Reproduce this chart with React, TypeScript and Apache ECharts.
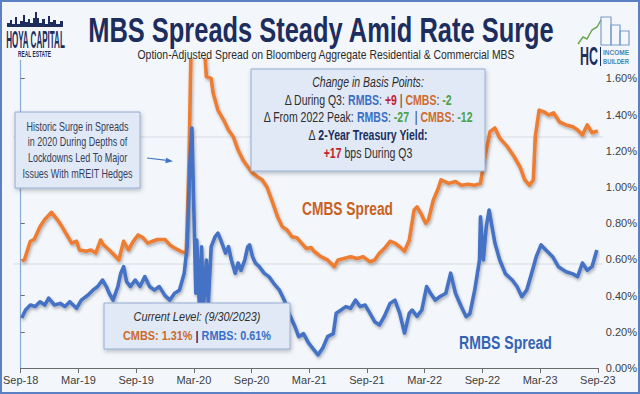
import React, { useEffect, useRef } from "react";
import * as echarts from "echarts";

// ---- data (x = months since Sep-2018, y = spread in %) ----
const xTickLabels = ["Sep-18", "Mar-19", "Sep-19", "Mar-20", "Sep-20", "Mar-21", "Sep-21", "Mar-22", "Sep-22", "Mar-23", "Sep-23"];
const yTickValues = [0, 0.2, 0.4, 0.6, 0.8, 1.0, 1.2, 1.4, 1.6];

const cmbsMonths = [0.1, 0.4, 1.0, 1.4, 2.0, 2.5, 3.2, 3.8, 4.3, 4.8, 5.3, 5.8, 6.1, 6.8, 7.3, 7.8, 8.3, 8.6, 9.2, 9.7, 10.2, 10.7, 11.2, 11.7, 12.2, 12.7, 13.2, 13.7, 14.2, 15.0, 15.5, 16.0, 16.7, 17.2, 17.3, 17.5, 17.7, 18.0, 18.5, 19.0, 19.3, 19.8, 20.0, 20.5, 21.1, 21.6, 22.1, 22.6, 23.1, 23.6, 24.1, 24.6, 25.1, 25.6, 26.1, 26.7, 27.2, 27.7, 28.2, 28.7, 29.2, 29.7, 30.2, 30.5, 31.2, 31.9, 32.6, 33.0, 33.6, 34.3, 35.0, 35.6, 36.3, 36.8, 37.3, 37.8, 38.4, 38.9, 39.4, 39.9, 40.4, 40.9, 41.2, 41.6, 42.1, 42.4, 42.9, 43.4, 43.7, 44.5, 45.2, 45.8, 46.5, 47.2, 47.8, 48.2, 48.8, 49.3, 49.8, 50.6, 51.3, 51.9, 52.4, 52.9, 53.3, 53.5, 53.9, 54.4, 54.9, 55.4, 56.0, 56.7, 57.4, 57.9, 58.4, 58.9, 59.4, 60.0];
const cmbsValues = [0.59, 0.6, 0.7, 0.71, 0.78, 0.82, 0.86, 0.82, 0.78, 0.735, 0.69, 0.7, 0.652, 0.645, 0.652, 0.635, 0.707, 0.68, 0.652, 0.625, 0.597, 0.7, 0.652, 0.7, 0.735, 0.72, 0.69, 0.7, 0.71, 0.71, 0.68, 0.663, 0.643, 0.635, 0.78, 1.15, 1.75, 1.95, 2.0, 1.85, 1.61, 1.6, 1.52, 1.425, 1.37, 1.315, 1.278, 1.204, 1.15, 1.112, 1.077, 1.057, 1.04, 1.0, 0.928, 0.836, 0.78, 0.762, 0.725, 0.72, 0.69, 0.66, 0.665, 0.645, 0.615, 0.597, 0.56, 0.597, 0.605, 0.615, 0.605, 0.615, 0.587, 0.597, 0.635, 0.66, 0.7, 0.69, 0.67, 0.645, 0.707, 0.873, 0.89, 0.855, 0.8, 0.82, 0.928, 0.99, 1.04, 1.02, 1.03, 1.01, 1.015, 1.01, 1.02, 1.15, 1.306, 1.326, 1.27, 1.223, 1.167, 1.112, 1.04, 1.01, 1.04, 1.278, 1.425, 1.415, 1.398, 1.41, 1.36, 1.343, 1.333, 1.315, 1.287, 1.343, 1.3, 1.31];

const rmbsMonths = [0.1, 0.5, 1.0, 1.5, 2.0, 2.5, 2.9, 3.5, 4.1, 4.6, 5.1, 5.8, 6.3, 7.0, 7.5, 8.0, 8.5, 8.9, 9.2, 9.6, 10.1, 10.4, 10.7, 11.0, 11.4, 11.9, 12.4, 12.9, 13.4, 13.9, 14.4, 15.0, 15.5, 16.0, 16.5, 17.0, 17.3, 17.6, 17.8, 18.0, 18.2, 18.3, 18.6, 18.8, 19.0, 19.3, 19.5, 19.8, 20.2, 20.5, 20.8, 21.3, 21.6, 21.9, 22.3, 22.6, 22.9, 23.3, 23.6, 23.8, 24.1, 24.4, 24.8, 25.3, 25.8, 26.3, 26.9, 27.4, 27.9, 28.5, 28.9, 29.4, 29.9, 30.2, 30.9, 31.4, 31.9, 32.5, 32.8, 33.3, 33.8, 34.3, 34.8, 35.3, 35.8, 36.3, 36.8, 37.3, 37.8, 38.4, 38.9, 39.4, 39.9, 40.4, 40.7, 41.2, 41.7, 42.2, 42.6, 43.1, 43.6, 44.2, 44.7, 45.2, 45.8, 46.3, 46.7, 47.2, 47.7, 47.8, 48.1, 48.4, 48.7, 49.0, 49.3, 49.8, 50.4, 51.1, 51.6, 52.1, 52.6, 53.1, 53.6, 54.1, 54.6, 55.3, 55.9, 56.7, 57.4, 57.9, 58.4, 58.9, 59.4, 59.9];
const rmbsValues = [0.276, 0.32, 0.348, 0.34, 0.366, 0.348, 0.386, 0.348, 0.357, 0.34, 0.366, 0.33, 0.375, 0.403, 0.43, 0.45, 0.486, 0.45, 0.413, 0.375, 0.45, 0.524, 0.56, 0.477, 0.45, 0.486, 0.45, 0.505, 0.45, 0.43, 0.45, 0.4, 0.375, 0.413, 0.43, 0.524, 0.67, 1.15, 1.326, 0.873, 0.413, 0.707, 0.3, 0.67, 0.33, 0.597, 0.35, 0.67, 0.725, 0.745, 0.707, 0.635, 0.67, 0.597, 0.524, 0.58, 0.54, 0.597, 0.67, 0.68, 0.615, 0.58, 0.56, 0.524, 0.505, 0.468, 0.43, 0.375, 0.3, 0.23, 0.173, 0.19, 0.14, 0.12, 0.072, 0.11, 0.173, 0.19, 0.303, 0.32, 0.339, 0.33, 0.375, 0.339, 0.348, 0.303, 0.256, 0.238, 0.285, 0.357, 0.375, 0.303, 0.193, 0.303, 0.32, 0.285, 0.32, 0.45, 0.413, 0.375, 0.395, 0.413, 0.524, 0.413, 0.34, 0.284, 0.3, 0.43, 0.597, 0.836, 0.597, 0.78, 0.873, 0.78, 0.69, 0.597, 0.52, 0.486, 0.45, 0.394, 0.43, 0.52, 0.615, 0.68, 0.652, 0.615, 0.56, 0.532, 0.52, 0.505, 0.58, 0.54, 0.56, 0.652];

const FF = '"Liberation Sans", Arial, Helvetica, sans-serif';
const NARROW = '"Liberation Sans Narrow", "Arial Narrow", "Liberation Sans", sans-serif';

let mctx: CanvasRenderingContext2D | null = null;
function measure(text: string, size: number, weight = "normal", style = "normal") {
  if (!mctx) mctx = document.createElement("canvas").getContext("2d");
  mctx!.font = `${style} ${weight} ${size}px ${FF}`;
  return mctx!.measureText(text).width;
}

type Seg = [string, string];
type RichDef = { fill: string; fontSize: number; fontWeight?: string; fontStyle?: string };

function textEl(x: number, y: number, text: string, size: number, fill: string, target: number, weight = "normal", fstyle = "normal", z = 60) {
  const sx = target / measure(text, size, weight, fstyle);
  return {
    type: "text", x, y, scaleX: sx, z,
    style: { text, fill, fontSize: size, fontWeight: weight, fontStyle: fstyle, fontFamily: FF, align: "center", verticalAlign: "middle" },
  };
}

function richWidth(segs: Seg[], defs: Record<string, RichDef>) {
  let w = 0;
  for (const [t, k] of segs) {
    const d = defs[k];
    w += measure(t, d.fontSize, d.fontWeight || "normal", d.fontStyle || "normal");
  }
  return w;
}

function richEl(x: number, y: number, segs: Seg[], defs: Record<string, RichDef>, scale: number, z = 60) {
  const rich: Record<string, any> = {};
  Object.keys(defs).forEach((k) => {
    rich[k] = { ...defs[k], fontFamily: FF };
  });
  return {
    type: "text", x, y, scaleX: scale, z,
    style: { text: segs.map(([t, k]) => `{${k}|${t}}`).join(""), rich, fontFamily: FF, fontSize: 14, align: "center", verticalAlign: "middle" },
  };
}

const BLUE = "#4472C4";
const ORANGE = "#ED7D31";
const NAVY = "#1c2d5e";

function buildGraphics() {
  const g: any[] = [];
  // faint gridlines
  g.push({ type: "line", z: 0, shape: { x1: 13, y1: 264, x2: 603, y2: 264 }, style: { stroke: "#d9dce2", lineWidth: 1 } });
  g.push({ type: "line", z: 0, shape: { x1: 13, y1: 137, x2: 603, y2: 137 }, style: { stroke: "#d9dce2", lineWidth: 1 } });

  // title / subtitle
  g.push(textEl(321, 30, "MBS Spreads Steady Amid Rate Surge", 36, NAVY, 467, "bold"));
  g.push(textEl(326, 54.5, "Option-Adjusted Spread on Bloomberg Aggregate Residential & Commercial MBS", 13, "#2b2b2b", 378));

  // left logo
  g.push({
    type: "polygon", z: 60,
    shape: { points: [[7, 27], [7, 23], [10, 23], [10, 20], [12, 20], [12, 24], [15, 24], [15, 17], [17, 17], [17, 24], [20, 24], [20, 21], [23, 21], [23, 15], [25, 15], [25, 22], [28, 22], [28, 19], [30, 19], [30, 23], [33, 23], [33, 18], [35, 18], [35, 12], [37, 12], [37, 18], [39, 18], [39, 23], [42, 23], [42, 19], [45, 19], [45, 24], [48, 24], [48, 16], [50, 16], [50, 22], [53, 22], [53, 20], [56, 20], [56, 24], [60, 24], [60, 21], [63, 21], [63, 27]] },
    style: { fill: NAVY },
  });
  g.push(textEl(35.5, 40, "HOYA CAPITAL", 24, NAVY, 59, "bold"));
  g.push(textEl(34.5, 54, "REAL ESTATE", 8.5, NAVY, 33, "bold"));

  // right logo
  g.push({ type: "polyline", z: 60, shape: { points: [[578, 44], [583, 37], [587, 39], [592, 30], [597, 27], [601, 20]] }, style: { stroke: "#6aa84f", lineWidth: 1.5, fill: "none" } });
  g.push({ type: "rect", z: 60, shape: { x: 601, y: 17, width: 10, height: 28 }, style: { stroke: "#7b9cc9", fill: "none", lineWidth: 1.2 } });
  g.push({ type: "rect", z: 60, shape: { x: 611, y: 25, width: 9, height: 20 }, style: { stroke: "#7b9cc9", fill: "none", lineWidth: 1.2 } });
  g.push({ type: "rect", z: 60, shape: { x: 620, y: 31, width: 9, height: 14 }, style: { stroke: "#7b9cc9", fill: "none", lineWidth: 1.2 } });
  g.push(textEl(589, 56, "HC", 25, NAVY, 18, "bold"));
  g.push({ type: "line", z: 60, shape: { x1: 600.5, y1: 47, x2: 600.5, y2: 66 }, style: { stroke: NAVY, lineWidth: 1 } });
  g.push(textEl(616, 52, "INCOME", 8, "#4d86b0", 26, "bold"));
  g.push(textEl(616, 61, "BUILDER", 8, "#4d86b0", 26, "bold"));

  const boxStyle = { fill: "#e0e9f5", stroke: "#93acd4", lineWidth: 1, shadowBlur: 4, shadowColor: "rgba(0,0,0,0.25)", shadowOffsetX: 1, shadowOffsetY: 2 };

  // box 1: change in basis points
  g.push({ type: "rect", z: 50, shape: { x: 251, y: 69, width: 234, height: 102 }, style: boxStyle });
  const d1: Record<string, RichDef> = {
    n: { fill: "#2e2e2e", fontSize: 14 },
    i: { fill: "#2e2e2e", fontSize: 14, fontStyle: "italic" },
    b: { fill: "#3b6fc6", fontSize: 14, fontWeight: "bold" },
    o: { fill: "#cf6c2c", fontSize: 14, fontWeight: "bold" },
    r: { fill: "#c0232b", fontSize: 14, fontWeight: "bold" },
    g: { fill: "#4ea24a", fontSize: 14, fontWeight: "bold" },
    k: { fill: NAVY, fontSize: 14, fontWeight: "bold" },
  };
  const l1: Seg[] = [["Change in Basis Points:", "i"]];
  const l2: Seg[] = [["Δ During Q3: ", "n"], ["RMBS", "b"], [": ", "n"], ["+9", "r"], [" | ", "n"], ["CMBS", "o"], [": ", "n"], ["-2", "g"]];
  const l3: Seg[] = [["Δ From 2022 Peak: ", "n"], ["RMBS", "b"], [": ", "n"], ["-27", "g"], ["  | ", "n"], ["CMBS", "o"], [": ", "n"], ["-12", "g"]];
  const l4: Seg[] = [["Δ ", "n"], ["2-Year Treasury Yield:", "k"]];
  const l5: Seg[] = [["+17", "r"], [" bps During Q3", "n"]];
  const s1 = 209 / richWidth(l3, d1);
  g.push(richEl(368, 82, l1, d1, s1));
  g.push(richEl(368, 100, l2, d1, s1));
  g.push(richEl(368, 117, l3, d1, s1));
  g.push(richEl(368, 135, l4, d1, s1));
  g.push(richEl(368, 153, l5, d1, s1));

  // box 2: historic surge
  g.push({ type: "rect", z: 50, shape: { x: 15, y: 112, width: 125, height: 76 }, style: boxStyle });
  const s2 = 102 / measure("Historic Surge in Spreads", 12.5);
  ["Historic Surge in Spreads", "in 2020 During Depths of", "Lockdowns Led To Major", "Issues With mREIT Hedges"].forEach((t, i) => {
    g.push({ type: "text", x: 77.5, y: 126 + i * 15.7, scaleX: s2, z: 60, style: { text: t, fill: "#34405a", fontSize: 12.5, fontFamily: FF, align: "center", verticalAlign: "middle" } });
  });
  // arrow
  g.push({ type: "line", z: 60, shape: { x1: 147, y1: 158, x2: 169, y2: 160.7 }, style: { stroke: BLUE, lineWidth: 1.2 } });
  g.push({ type: "polygon", z: 60, shape: { points: [[173, 161.2], [166, 157.8], [165.4, 163.2]] }, style: { fill: BLUE } });

  // box 3: current level
  g.push({ type: "rect", z: 50, shape: { x: 104, y: 303, width: 186, height: 46 }, style: boxStyle });
  const d3: Record<string, RichDef> = {
    i: { fill: "#2e2e2e", fontSize: 13.5, fontStyle: "italic" },
    o: { fill: "#cc6a2a", fontSize: 13.5, fontWeight: "bold" },
    d: { fill: NAVY, fontSize: 13.5, fontWeight: "bold" },
    b: { fill: "#3b6fc6", fontSize: 13.5, fontWeight: "bold" },
  };
  const c2: Seg[] = [["CMBS: 1.31%", "o"], [" | ", "d"], ["RMBS: 0.61%", "b"]];
  const s3 = 148 / richWidth(c2, d3);
  g.push(richEl(197, 317, [["Current Level: (9/30/2023)", "i"]], d3, s3));
  g.push(richEl(197, 336, c2, d3, s3));

  // series labels
  g.push(textEl(347.5, 208, "CMBS Spread", 18.5, "#c8621e", 91, "bold", "normal", 40));
  g.push(textEl(505.5, 342, "RMBS Spread", 18.5, "#3563b3", 93, "bold", "normal", 40));

  // frame
  g.push({ type: "rect", z: 200, shape: { x: 1, y: 1, width: 638, height: 392 }, style: { fill: "none", stroke: "#5b80c4", lineWidth: 2 } });
  return g;
}

export default function App() {
  const ref = useRef<HTMLDivElement>(null);
  useEffect(() => {
    if (!ref.current) return;
    const chart = echarts.init(ref.current, null, { renderer: "svg" });
    const lineCommon = (color: string) => ({
      type: "line" as const,
      showSymbol: false,
      symbol: "none",
      clip: true,
      lineStyle: { color, width: 3.6, join: "round", shadowColor: "rgba(0,0,0,0.3)", shadowBlur: 3, shadowOffsetX: 1, shadowOffsetY: 2 },
      itemStyle: { color },
      z: 10,
    });
    chart.setOption({
      animation: false,
      backgroundColor: "#f3f7fc",
      grid: { left: 13, right: 37, top: 60.3, bottom: 26 },
      xAxis: {
        type: "value",
        min: 0,
        max: 60,
        interval: 6,
        splitLine: { show: false },
        axisLine: { lineStyle: { color: "#6b6b6b", width: 1 } },
        axisTick: { show: true, length: 5, lineStyle: { color: "#6b6b6b" } },
        axisLabel: {
          color: "#404040",
          fontSize: 11,
          fontFamily: NARROW,
          margin: 6,
          formatter: (v: number) => xTickLabels[Math.round(v / 6)] ?? "",
        },
      },
      yAxis: {
        type: "value",
        position: "right",
        min: 0,
        max: 1.7,
        interval: 0.2,
        splitLine: { show: false },
        axisLine: { show: true, lineStyle: { color: "#8eaad6", width: 1.2 } },
        axisTick: { show: true, length: 4, lineStyle: { color: "#6b6b6b" }, customValues: yTickValues },
        axisLabel: {
          color: "#404040",
          fontSize: 11,
          fontFamily: NARROW,
          margin: 8,
          customValues: yTickValues,
          formatter: (v: number) => v.toFixed(2) + "%",
        },
      },
      series: [
        { ...lineCommon(ORANGE), name: "CMBS", data: cmbsMonths.map((m, i) => [m, cmbsValues[i]]) },
        { ...lineCommon(BLUE), name: "RMBS", data: rmbsMonths.map((m, i) => [m, rmbsValues[i]]) },
      ],
      graphic: { elements: buildGraphics() },
    });
    return () => chart.dispose();
  }, []);
  return <div ref={ref} style={{ position: "fixed", left: 0, top: 0, width: 640, height: 394 }} />;
}
